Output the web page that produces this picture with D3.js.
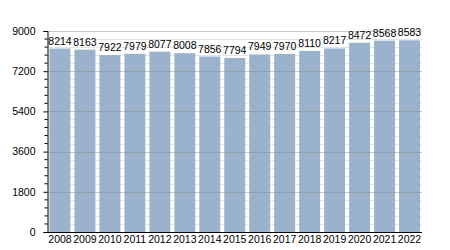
<!DOCTYPE html>
<html><head><meta charset="utf-8">
<script src="https://cdn.jsdelivr.net/npm/d3@7"></script>
<style>body{margin:0;background:#fff}svg{display:block}</style>
</head><body>
<svg id="c" width="450" height="250"></svg>
<script>
const years = ["2008","2009","2010","2011","2012","2013","2014","2015","2016","2017","2018","2019","2020","2021","2022"];
const values = [8214,8163,7922,7979,8077,8008,7856,7794,7949,7970,8110,8217,8472,8568,8583];
const yTicks = [0,1800,3600,5400,7200,9000];

const svg = d3.select("#c");
const L = 47.5, R = 422, T = 31, B = 232;
const x = d3.scaleBand().domain(years).range([L, R]).paddingInner(0.16).paddingOuter(0.08);
const y = d3.scaleLinear().domain([0, 9000]).range([B, T]);
const minor = d3.range(0, 9001, 360).filter(v => v % 1800 !== 0);

// minor gridlines
svg.append("g").selectAll("line").data(minor).join("line")
  .attr("x1", L).attr("x2", R).attr("y1", d => Math.round(y(d)) + 0.5).attr("y2", d => Math.round(y(d)) + 0.5)
  .attr("stroke", "#e4e4e4").attr("stroke-width", 1);

// bars
svg.append("g").selectAll("rect").data(values).join("rect")
  .attr("x", (d, i) => x(years[i])).attr("width", x.bandwidth())
  .attr("y", d => y(d)).attr("height", d => B - y(d))
  .attr("fill", "#9bb2cd");

// major gridlines
svg.append("g").selectAll("line").data(yTicks.slice(1)).join("line")
  .attr("x1", L).attr("x2", R).attr("y1", d => Math.round(y(d)) + 0.5).attr("y2", d => Math.round(y(d)) + 0.5)
  .attr("stroke", "#888").attr("stroke-opacity", 0.45).attr("stroke-width", 1);

// y axis
const ya = svg.append("g").attr("transform", `translate(${L},0)`)
  .call(d3.axisLeft(y).tickValues(yTicks).tickSize(4).tickPadding(8).tickFormat(d3.format("d")));
ya.select(".domain").attr("stroke", "#000");
ya.selectAll(".tick line").attr("stroke", "#000");
ya.selectAll("text").attr("font-family", "Liberation Sans, Arial, sans-serif").attr("font-size", "10.5px").attr("fill", "#000");
ya.append("g").selectAll("line").data(minor).join("line")
  .attr("x1", -3).attr("x2", 0).attr("y1", d => y(d)).attr("y2", d => y(d)).attr("stroke", "#000");

// x axis
const xa = svg.append("g").attr("transform", `translate(0,${B})`)
  .call(d3.axisBottom(x).tickSize(0).tickPadding(4));
xa.select(".domain").attr("stroke", "#000").attr("d", `M${L},0.5H${R}`);
xa.selectAll("text").attr("font-family", "Liberation Sans, Arial, sans-serif").attr("font-size", "10.5px").attr("fill", "#000");

// value labels
svg.append("g").selectAll("text").data(values).join("text")
  .attr("x", (d, i) => x(years[i]) + x.bandwidth() / 2)
  .attr("y", d => y(d) - 4)
  .attr("text-anchor", "middle")
  .attr("font-family", "Liberation Sans, Arial, sans-serif").attr("font-size", "10.5px").attr("fill", "#000")
  .text(d => d);
</script>
</body></html>
